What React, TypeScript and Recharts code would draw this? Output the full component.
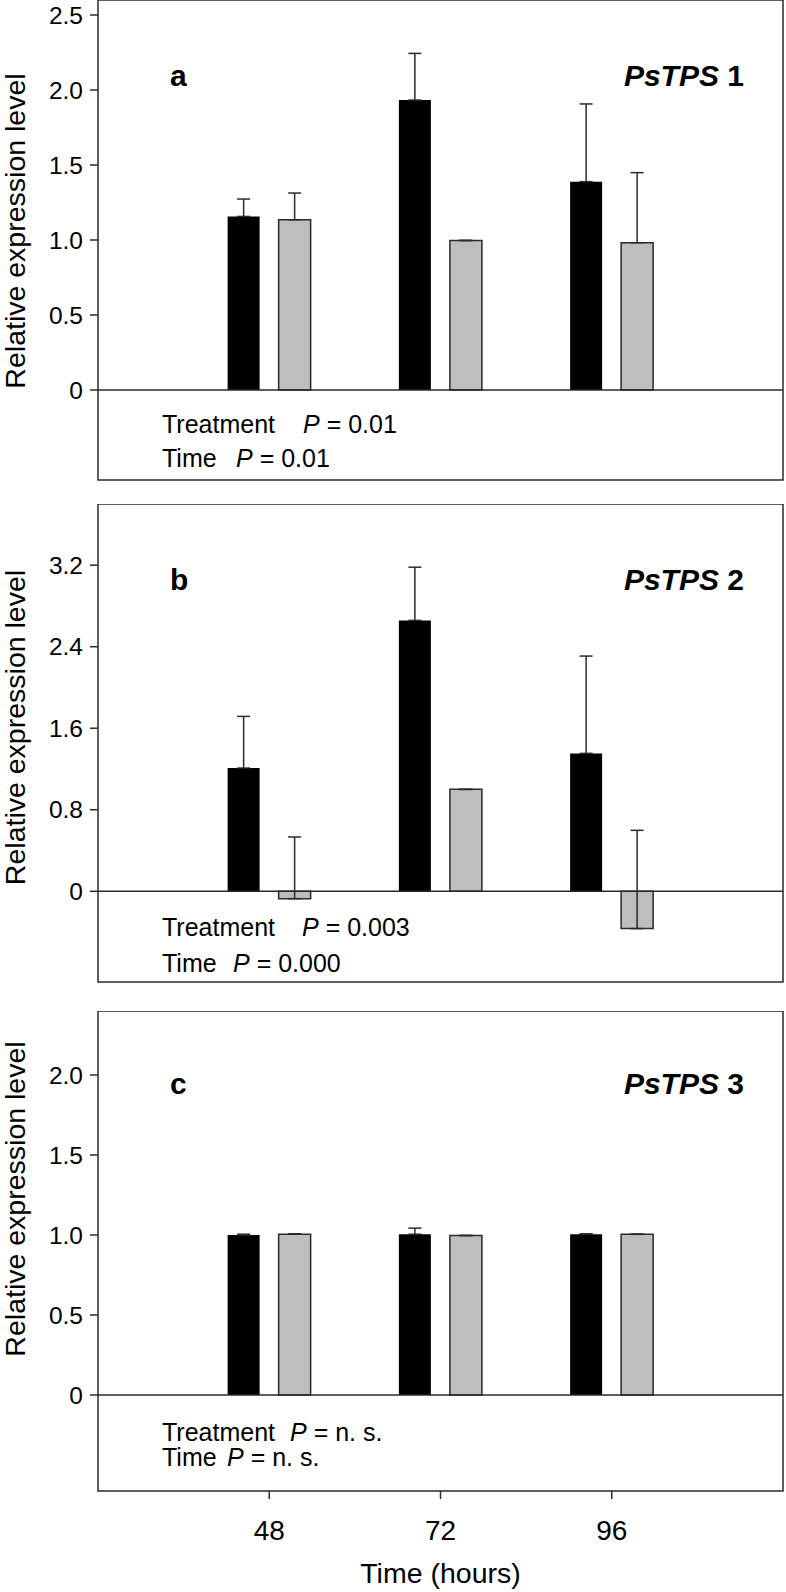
import React from 'react';
import { BarChart, Bar, XAxis, YAxis, ErrorBar, ReferenceLine, ReferenceArea } from 'recharts';

const hours = [48, 72, 96];
const xTicks = [48, 72, 96];

const tps1Treated = [1.157, 1.933, 1.389];
const tps1TreatedErr = [0.116, 0.311, 0.518];
const tps1Control = [1.135, 0.997, 0.982];
const tps1ControlErr = [0.178, 0, 0.467];

const tps2Treated = [1.209, 2.658, 1.353];
const tps2TreatedErr = [0.507, 0.522, 0.955];
const tps2Control = [-0.072, 1.0, -0.366];
const tps2ControlErr = [0.605, 0, 0.964];

const tps3Treated = [1.0, 1.005, 1.005];
const tps3TreatedErr = [0.005, 0.038, 0.003];
const tps3Control = [1.005, 0.997, 1.004];
const tps3ControlErr = [0.003, 0, 0.002];

const ticksA = [0, 0.5, 1.0, 1.5, 2.0, 2.5];
const ticksB = [0, 0.8, 1.6, 2.4, 3.2];
const ticksC = [0, 0.5, 1.0, 1.5, 2.0];

const FONT = "'Liberation Sans', Arial, Helvetica, sans-serif";
const LINE = '#2a2a2a';

function build(t: number[], te: number[], c: number[], ce: number[]) {
  return hours.map((h, i) => ({
    hour: h,
    treated: t[i],
    treatedErr: [0, te[i]],
    control: c[i],
    controlErr: [0, ce[i]],
  }));
}

const dataA = build(tps1Treated, tps1TreatedErr, tps1Control, tps1ControlErr);
const dataB = build(tps2Treated, tps2TreatedErr, tps2Control, tps2ControlErr);
const dataC = build(tps3Treated, tps3TreatedErr, tps3Control, tps3ControlErr);

const fmt = (v: number) => (v === 0 ? '0' : v.toFixed(1));

type PanelProps = {
  top: number;
  height: number;
  bottomMargin: number;
  data: any[];
  domain: [number, number];
  ticks: number[];
  letter: string;
  gene: string;
  letterY: number;
  labelCy: number;
  treatY: number;
  timeY: number;
  treatP: number;
  timeP: number;
  treatText: string;
  timeText: string;
  showX: boolean;
};

function Panel(p: PanelProps) {
  return (
    <div style={{ position: 'absolute', left: 0, top: p.top, width: 786, height: p.height }}>
      <BarChart
        width={786}
        height={p.height}
        data={p.data}
        margin={{ top: 0, right: 3, bottom: p.bottomMargin, left: 0 }}
        barGap={19}
      >
        <XAxis
          dataKey="hour"
          type="number"
          domain={[24, 120]}
          ticks={xTicks}
          allowDataOverflow
          hide={!p.showX}
          height={60}
          axisLine={false}
          tickSize={8}
          tickMargin={21}
          tickLine={{ stroke: LINE, strokeWidth: 1.5 }}
          tick={{ fill: '#000', fontSize: 28, fontFamily: FONT }}
        />
        <YAxis
          type="number"
          domain={p.domain}
          ticks={p.ticks}
          allowDataOverflow
          width={98}
          axisLine={false}
          tickSize={8}
          tickMargin={7}
          tickLine={{ stroke: LINE, strokeWidth: 1.5 }}
          tick={{ fill: '#000', fontSize: 24.5, fontFamily: FONT }}
          tickFormatter={fmt}
        />
        <ReferenceArea
          x1={24}
          x2={120}
          y1={p.domain[0]}
          y2={p.domain[1]}
          fill="none"
          fillOpacity={0}
          stroke={LINE}
          strokeWidth={1.5}
          ifOverflow="visible"
        />
        <ReferenceLine y={0} stroke={LINE} strokeWidth={1.5} ifOverflow="visible" />
        <Bar dataKey="treated" fill="#000" barSize={32} isAnimationActive={false}>
          <ErrorBar dataKey="treatedErr" width={6.5} stroke={LINE} strokeWidth={1.5} direction="y" />
        </Bar>
        <Bar dataKey="control" fill="#bebebe" stroke={LINE} strokeWidth={1.5} barSize={32} isAnimationActive={false}>
          <ErrorBar dataKey="controlErr" width={6.5} stroke={LINE} strokeWidth={1.5} direction="y" />
        </Bar>
        <text
          x={25}
          y={p.labelCy}
          transform={`rotate(-90 25 ${p.labelCy})`}
          textAnchor="middle"
          fontSize={28.5}
          fontFamily={FONT}
          fill="#000"
        >
          Relative expression level
        </text>
        <text x={170} y={p.letterY} fontSize={30} fontWeight="bold" fontFamily={FONT} fill="#000">
          {p.letter}
        </text>
        <text x={744} y={p.letterY} textAnchor="end" fontSize={30} fontWeight="bold" fontFamily={FONT} fill="#000">
          <tspan fontStyle="italic">PsTPS</tspan>
          <tspan> {p.gene}</tspan>
        </text>
        <text x={162} y={p.treatY} fontSize={25} fontFamily={FONT} fill="#000">
          <tspan>Treatment</tspan>
          <tspan x={p.treatP} fontStyle="italic">P</tspan>
          <tspan>{p.treatText}</tspan>
        </text>
        <text x={162} y={p.timeY} fontSize={25} fontFamily={FONT} fill="#000">
          <tspan>Time</tspan>
          <tspan x={p.timeP} fontStyle="italic">P</tspan>
          <tspan>{p.timeText}</tspan>
        </text>
        {p.showX && (
          <text x={440.5} y={572} textAnchor="middle" fontSize={28.5} fontFamily={FONT} fill="#000">
            Time (hours)
          </text>
        )}
      </BarChart>
    </div>
  );
}

export default function App() {
  return (
    <div
      style={{
        position: 'absolute',
        left: 0,
        top: 0,
        width: 786,
        height: 1592,
        background: '#fff',
        fontFamily: FONT,
      }}
    >
      <Panel
        top={0}
        height={490}
        bottomMargin={10}
        data={dataA}
        domain={[-0.6, 2.6]}
        ticks={ticksA}
        letter="a"
        gene="1"
        letterY={86}
        labelCy={231}
        treatY={433}
        timeY={467}
        treatP={303}
        timeP={236}
        treatText=" = 0.01"
        timeText=" = 0.01"
        showX={false}
      />
      <Panel
        top={504}
        height={488}
        bottomMargin={10}
        data={dataB}
        domain={[-0.89, 3.8]}
        ticks={ticksB}
        letter="b"
        gene="2"
        letterY={86}
        labelCy={223.5}
        treatY={432}
        timeY={468}
        treatP={302}
        timeP={233}
        treatText=" = 0.003"
        timeText=" = 0.000"
        showX={false}
      />
      <Panel
        top={1011}
        height={581}
        bottomMargin={41}
        data={dataC}
        domain={[-0.6, 2.4]}
        ticks={ticksC}
        letter="c"
        gene="3"
        letterY={83}
        labelCy={188}
        treatY={430}
        timeY={455}
        treatP={290}
        timeP={227}
        treatText=" = n. s."
        timeText=" = n. s."
        showX={true}
      />
    </div>
  );
}
